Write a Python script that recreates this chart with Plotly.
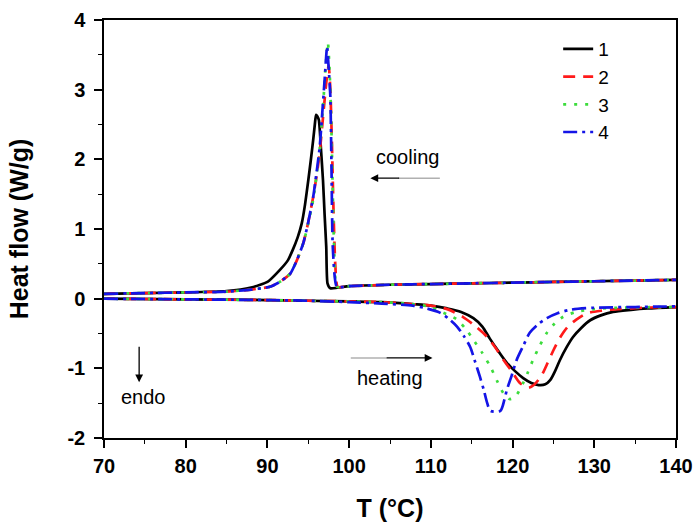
import plotly.graph_objects as go

# DSC thermograms: cooling (exothermic crystallisation) and heating (endothermic melting)
# Temperature in °C, heat flow in W/g

cool_T_1 = [70, 75, 80, 85, 88, 90, 91.5, 92.5, 93.1, 93.7, 94.2, 94.6, 95.0, 95.3, 95.6, 95.8, 95.95, 96.1, 96.3, 96.55, 96.8, 97.0, 97.2, 97.35, 97.7, 100, 105, 110, 115, 120, 125, 130, 135, 140]
cool_H_1 = [0.07, 0.08, 0.09, 0.11, 0.16, 0.24, 0.41, 0.55, 0.70, 0.88, 1.08, 1.35, 1.70, 1.98, 2.28, 2.50, 2.64, 2.62, 2.56, 2.15, 1.70, 1.20, 0.74, 0.22, 0.15, 0.18, 0.20, 0.21, 0.22, 0.23, 0.24, 0.25, 0.26, 0.27]

cool_T_2 = [70, 75, 80, 85, 88, 90.3, 91.5, 92.8, 93.6, 94.4, 95.0, 95.6, 96.0, 96.4, 96.8, 97.2, 97.5, 97.7, 97.9, 98.1, 98.3, 98.6, 100, 105, 110, 115, 120, 125, 130, 135, 140]
cool_H_2 = [0.07, 0.08, 0.09, 0.10, 0.13, 0.17, 0.24, 0.36, 0.55, 0.80, 1.10, 1.46, 1.75, 2.10, 2.60, 3.10, 3.35, 3.00, 2.20, 1.20, 0.50, 0.17, 0.18, 0.20, 0.21, 0.22, 0.23, 0.24, 0.25, 0.26, 0.27]

cool_T_3 = [70, 75, 80, 85, 88, 90.3, 91.5, 92.8, 93.6, 94.4, 95.0, 95.6, 96.0, 96.4, 96.8, 97.1, 97.4, 97.6, 97.8, 98.0, 98.2, 98.5, 100, 105, 110, 115, 120, 125, 130, 135, 140]
cool_H_3 = [0.07, 0.08, 0.09, 0.10, 0.13, 0.17, 0.24, 0.36, 0.55, 0.80, 1.08, 1.42, 1.75, 2.15, 2.75, 3.30, 3.68, 3.30, 2.60, 1.50, 0.60, 0.17, 0.18, 0.20, 0.21, 0.22, 0.23, 0.24, 0.25, 0.26, 0.27]

cool_T_4 = [70, 75, 80, 85, 88, 90.3, 91.5, 92.8, 93.6, 94.4, 95.0, 95.6, 96.0, 96.4, 96.7, 97.0, 97.3, 97.5, 97.7, 97.85, 98.0, 98.5, 100, 105, 110, 115, 120, 125, 130, 135, 140]
cool_H_4 = [0.07, 0.08, 0.09, 0.10, 0.13, 0.17, 0.24, 0.36, 0.55, 0.80, 1.10, 1.46, 1.80, 2.18, 2.65, 3.14, 3.62, 3.30, 2.90, 1.80, 0.74, 0.17, 0.18, 0.20, 0.21, 0.22, 0.23, 0.24, 0.25, 0.26, 0.27]

heat_T_1 = [70, 80, 90, 95, 100, 104, 108, 110, 112, 113.7, 115.2, 116.3, 117.2, 118.3, 119.3, 120.3, 121.3, 122.3, 123.2, 124.0, 124.6, 125.2, 125.8, 126.6, 127.4, 128.4, 129.5, 130.8, 132.3, 134.5, 136.5, 140]
heat_H_1 = [0.0, -0.01, -0.02, -0.03, -0.04, -0.05, -0.08, -0.10, -0.14, -0.19, -0.28, -0.40, -0.57, -0.76, -0.92, -1.04, -1.14, -1.21, -1.24, -1.23, -1.17, -1.04, -0.88, -0.70, -0.55, -0.42, -0.31, -0.24, -0.19, -0.16, -0.14, -0.12]

heat_T_2 = [70, 80, 90, 95, 100, 104, 108, 110, 112, 113.9, 115.5, 116.9, 118.0, 118.9, 120.0, 120.9, 121.9, 122.6, 123.2, 123.7, 124.3, 125.0, 125.8, 126.7, 127.8, 129.1, 131, 133, 136, 140]
heat_H_2 = [0.0, -0.01, -0.02, -0.03, -0.04, -0.05, -0.08, -0.10, -0.15, -0.26, -0.40, -0.55, -0.72, -0.88, -1.06, -1.21, -1.28, -1.24, -1.16, -1.07, -0.92, -0.74, -0.56, -0.41, -0.30, -0.21, -0.17, -0.15, -0.13, -0.12]

heat_T_3 = [70, 80, 90, 95, 100, 104, 108, 109.9, 111.5, 113.2, 114.3, 115.2, 116.3, 117.3, 118.1, 118.9, 119.6, 120.3, 121.3, 121.9, 122.5, 123.3, 124.2, 125.2, 126.2, 127.8, 130, 133, 140]
heat_H_3 = [0.0, -0.01, -0.02, -0.03, -0.04, -0.05, -0.08, -0.12, -0.20, -0.30, -0.44, -0.59, -0.78, -0.98, -1.18, -1.36, -1.44, -1.41, -1.21, -1.05, -0.88, -0.68, -0.49, -0.35, -0.26, -0.19, -0.15, -0.13, -0.12]

heat_T_4 = [70, 80, 90, 95, 100, 104, 107.8, 109.5, 111.1, 112.2, 113.2, 114.0, 114.8, 115.4, 116.0, 116.5, 116.9, 117.3, 118.5, 119.0, 119.3, 119.9, 120.5, 121.3, 122.1, 123.1, 124.2, 125.5, 127, 130, 135, 140]
heat_H_4 = [0.0, -0.01, -0.02, -0.03, -0.05, -0.07, -0.10, -0.14, -0.20, -0.29, -0.40, -0.53, -0.69, -0.90, -1.12, -1.32, -1.50, -1.61, -1.61, -1.45, -1.31, -1.10, -0.88, -0.68, -0.49, -0.37, -0.28, -0.21, -0.16, -0.13, -0.12, -0.11]

sample_names = ["1", "2", "3", "4"]
x_ticks = [70, 80, 90, 100, 110, 120, 130, 140]
y_ticks = [-2, -1, 0, 1, 2, 3, 4]

cooling = [(cool_T_1, cool_H_1), (cool_T_2, cool_H_2), (cool_T_3, cool_H_3), (cool_T_4, cool_H_4)]
heating = [(heat_T_1, heat_H_1), (heat_T_2, heat_H_2), (heat_T_3, heat_H_3), (heat_T_4, heat_H_4)]

styles = [
    dict(color="#000000", dash="solid"),
    dict(color="#ff1a1a", dash="12px,8px"),
    dict(color="#3ddc3d", dash="3px,8px"),
    dict(color="#1414e6", dash="14px,5px,3px,5px"),
]

fig = go.Figure()
for name, (cT, cH), (hT, hH), st in zip(sample_names, cooling, heating, styles):
    line = dict(color=st["color"], dash=st["dash"], width=2.7)
    fig.add_trace(go.Scatter(x=cT, y=cH, mode="lines", name=name, legendgroup=name,
                             line=dict(**line, shape="spline", smoothing=0.5)))
    fig.add_trace(go.Scatter(x=hT, y=hH, mode="lines", name=name, legendgroup=name,
                             showlegend=False, line=dict(**line, shape="spline", smoothing=0.8)))

font_family = "Liberation Sans, Arial, sans-serif"
axis_font = dict(family=font_family, size=20, color="black")
title_font = dict(family=font_family, size=25, color="black")
text_font = dict(family=font_family, size=20, color="black")

fig.update_layout(
    width=695, height=524,
    margin=dict(l=104, r=19, t=20, b=86),
    paper_bgcolor="white", plot_bgcolor="white",
    showlegend=True,
    legend=dict(
        x=0.794, y=0.976, xanchor="left", yanchor="top",
        bgcolor="rgba(0,0,0,0)", borderwidth=0,
        font=dict(family=font_family, size=19, color="black"),
        tracegroupgap=0,
    ),
)

fig.update_xaxes(
    range=[70, 140], tickvals=x_ticks, ticktext=[f"<b>{v}</b>" for v in x_ticks],
    showgrid=False, zeroline=False, automargin=False,
    showline=True, linecolor="black", linewidth=1.5, mirror=True,
    ticks="outside", ticklen=8, tickwidth=1.5, tickcolor="black",
    minor=dict(dtick=5, ticks="outside", ticklen=4, tickwidth=1.2, tickcolor="black"),
    tickfont=axis_font, ticklabelstandoff=1,
    title=dict(text="<b>T (°C)</b>", font=title_font, standoff=24),
)
fig.update_yaxes(
    range=[-2, 4], tickvals=y_ticks, ticktext=[f"<b>{v}</b>" for v in y_ticks],
    showgrid=False, zeroline=False, automargin=False,
    showline=True, linecolor="black", linewidth=1.5, mirror=True,
    ticks="outside", ticklen=8, tickwidth=1.5, tickcolor="black",
    minor=dict(dtick=0.5, ticks="outside", ticklen=4, tickwidth=1.2, tickcolor="black"),
    tickfont=axis_font, ticklabelstandoff=5,
    title=dict(text="<b>Heat flow (W/g)</b>", font=title_font, standoff=32),
)

# direction labels and arrows
fig.add_annotation(x=107.1, y=2.03, text="cooling", showarrow=False, font=text_font)
fig.add_shape(type="line", x0=111.1, x1=106.0, y0=1.73, y1=1.73, line=dict(color="#b0b0b0", width=1.5))
fig.add_annotation(x=102.6, y=1.73, ax=106.3, ay=1.73, axref="x", ayref="y", text="",
                   showarrow=True, arrowhead=2, arrowsize=1.2, arrowwidth=1.3, arrowcolor="black")

fig.add_annotation(x=105.0, y=-1.14, text="heating", showarrow=False, font=text_font)
fig.add_shape(type="line", x0=100.2, x1=104.6, y0=-0.85, y1=-0.85, line=dict(color="#b0b0b0", width=1.5))
fig.add_annotation(x=110.2, y=-0.85, ax=104.4, ay=-0.85, axref="x", ayref="y", text="",
                   showarrow=True, arrowhead=2, arrowsize=1.2, arrowwidth=1.3, arrowcolor="black")

fig.add_annotation(x=74.8, y=-1.41, text="endo", showarrow=False, font=text_font)
fig.add_annotation(x=74.3, y=-1.2, ax=74.3, ay=-0.67, axref="x", ayref="y", text="",
                   showarrow=True, arrowhead=2, arrowsize=1.2, arrowwidth=1.3, arrowcolor="black")

fig.write_html("out.html")
